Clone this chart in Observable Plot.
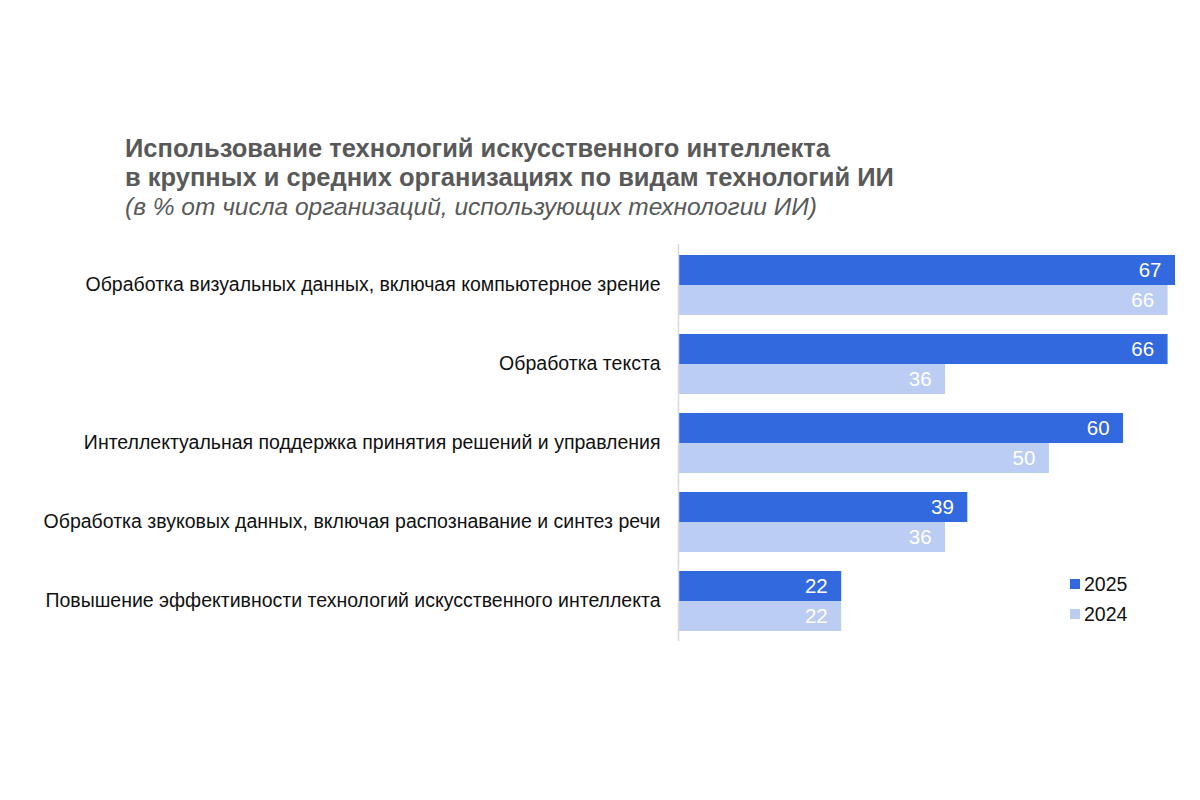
<!DOCTYPE html>
<html>
<head>
<meta charset="utf-8">
<script src="https://cdn.jsdelivr.net/npm/d3@7"></script>
<script src="https://cdn.jsdelivr.net/npm/@observablehq/plot@0.6"></script>
<style>
  html, body { margin: 0; padding: 0; background: #fff; }
  #wrap { position: relative; width: 1200px; height: 800px; overflow: hidden; font-family: "Liberation Sans", Arial, sans-serif; }
  #title { position: absolute; left: 125px; top: 134px; color: #595959; white-space: nowrap; }
  #title .t { font-weight: bold; font-size: 25.5px; line-height: 29px; }
  #title .s { font-style: italic; font-size: 24.5px; line-height: 29px; }
  #chart { position: absolute; left: 0; top: 230px; }
  #legend { position: absolute; left: 1070px; top: 569px; font-size: 19.5px; color: #111; }
  #legend .item { display: flex; align-items: center; height: 30px; }
  #legend .sw { width: 10px; height: 10px; margin-right: 4px; }
</style>
</head>
<body>
<div id="wrap">
  <div id="title">
    <div class="t">Использование технологий искусственного интеллекта</div>
    <div class="t">в крупных и средних организациях по видам технологий ИИ</div>
    <div class="s">(в % от числа организаций, использующих технологии ИИ)</div>
  </div>
  <div id="chart"></div>
  <div id="legend"></div>
</div>
<script>
const categories = [
  "Обработка визуальных данных, включая компьютерное зрение",
  "Обработка текста",
  "Интеллектуальная поддержка принятия решений и управления",
  "Обработка звуковых данных, включая распознавание и синтез речи",
  "Повышение эффективности технологий искусственного интеллекта"
];
const years = ["2025", "2024"];
const values2025 = [67, 66, 60, 39, 22];
const values2024 = [66, 36, 50, 36, 22];
const colors = ["#3369de", "#bccdf4"];

const data = [];
categories.forEach((c, i) => {
  data.push({category: c, year: years[0], value: values2025[i]});
  data.push({category: c, year: years[1], value: values2024[i]});
});

const chart = Plot.plot({
  width: 1200,
  height: 430,
  marginLeft: 678,
  marginRight: 25,
  marginTop: 13,
  marginBottom: 19,
  style: {fontSize: "19.5px", fontFamily: "'Liberation Sans', Arial, sans-serif", color: "#111", background: "transparent"},
  x: {axis: null},
  y: {axis: null, domain: years, padding: 0},
  fy: {domain: categories, label: null, axis: "left", tickSize: 0, tickPadding: 18, paddingInner: 0.23, paddingOuter: 0.12},
  color: {domain: years, range: colors},
  marks: [
    Plot.barX(data, {x: "value", y: "year", fy: "category", fill: "year"}),
    Plot.ruleX([0], {stroke: "#d9d9d9", strokeWidth: 1.5, insetTop: -10, insetBottom: -10}),
    Plot.text(data, {x: "value", y: "year", fy: "category", text: d => String(d.value), textAnchor: "end", dx: -14, fill: "white", fontSize: 20.5})
  ]
});
document.getElementById("chart").appendChild(chart);

const legend = document.getElementById("legend");
years.forEach((y, i) => {
  const item = document.createElement("div");
  item.className = "item";
  const sw = document.createElement("div");
  sw.className = "sw";
  sw.style.background = colors[i];
  const lab = document.createElement("span");
  lab.textContent = y;
  item.appendChild(sw);
  item.appendChild(lab);
  legend.appendChild(item);
});
</script>
</body>
</html>
